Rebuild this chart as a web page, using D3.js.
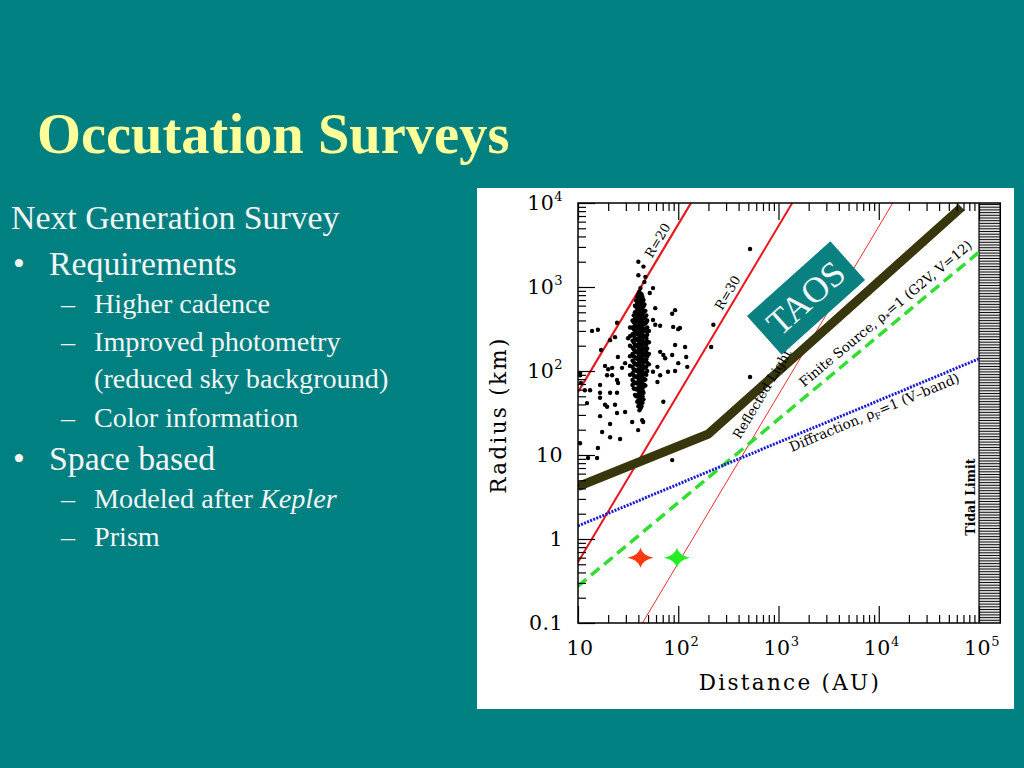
<!DOCTYPE html>
<html lang="en">
<head>
<meta charset="UTF-8">
<title>Occutation Surveys</title>
<style>
    html, body { margin: 0; padding: 0; background: #008080; }
    svg { display: block; }
    .slide-text { font-family: "Liberation Serif", "Times New Roman", serif; fill: #f4f4f4; }
    .chart-text { font-family: "DejaVu Serif", serif; fill: #000; }
</style>
</head>
<body>
<svg id="slide" width="1024" height="768"></svg>
<script src="https://d3js.org/d3.v7.min.js"></script>
<script>
    // ---- slide text ----
    const title = "Occutation Surveys";
    const headline = "Next Generation Survey";
    const bullets = [
        { level: 1, text: "Requirements" },
        { level: 2, text: "Higher cadence" },
        { level: 2, text: "Improved photometry" },
        { level: 3, text: "(reduced sky background)" },
        { level: 2, text: "Color information" },
        { level: 1, text: "Space based" },
        { level: 2, text: "Modeled after ", italic: "Kepler" },
        { level: 2, text: "Prism" }
    ];

    // ---- chart data (distance in AU, radius in km) ----
    const xMajor = [10, 100, 1000, 10000, 100000];
    const xLabels = [["10", ""], ["10", "2"], ["10", "3"], ["10", "4"], ["10", "5"]];
    const yMajor = [0.1, 1, 10, 100, 1000, 10000];
    const yLabels = [["0.1", ""], ["1", ""], ["10", ""], ["10", "2"], ["10", "3"], ["10", "4"]];

    const tidalLimit = 100000;
    const frameEdge = 163000;

    const r20Line = [[10, 56], [134, 10000]];
    const r30Line = [[10, 0.53], [1370, 10000]];
    const r40Line = [[44, 0.1], [13800, 10000]];
    const taosLine = [[10, 4.2], [200, 17.8], [67000, 8900]];
    const finiteSource = [[10, 0.275], [100000, 2600]];
    const diffraction = [[10, 1.43], [100000, 140]];

    const starDist = [42, 97];
    const starRadius = [0.6, 0.6];

    // dense core of the Kuiper belt objects
    const kboCoreDist = [33, 35, 36, 37, 38, 39, 40, 41, 42, 43, 44, 45, 46, 47, 48, 49, 51];
    const kboCoreRadii = [
        [330, 260, 200, 150, 115, 90],
        [400, 330, 275, 230, 190, 160, 133, 112, 94, 78, 68],
        [460, 380, 315, 262, 218, 182, 150, 126, 105, 88, 74, 62],
        [600, 500, 420, 350, 295, 245, 205, 172, 145, 122, 102, 86, 72, 61, 52],
        [690, 580, 485, 405, 340, 285, 240, 200, 168, 142, 120, 101, 85, 72, 61, 50],
        [760, 640, 540, 455, 385, 325, 275, 232, 196, 166, 140, 118, 100, 84, 71, 60, 51, 43],
        [820, 690, 580, 485, 408, 342, 290, 244, 206, 174, 147, 124, 105, 89, 75, 63, 53, 45, 38],
        [880, 740, 620, 520, 440, 370, 312, 263, 222, 188, 158, 134, 113, 95, 80, 68, 57, 48, 40, 34],
        [760, 640, 535, 450, 380, 318, 268, 226, 190, 161, 136, 115, 97, 82, 69, 58, 49, 41, 36],
        [820, 690, 580, 490, 410, 345, 290, 245, 207, 175, 148, 125, 105, 89, 75, 63, 53, 45, 38],
        [760, 640, 540, 455, 382, 322, 272, 228, 193, 163, 138, 116, 98, 83, 70, 59, 50, 42],
        [700, 590, 500, 420, 355, 300, 252, 212, 180, 152, 128, 108, 91, 77, 65, 55, 46],
        [620, 520, 440, 370, 312, 262, 222, 188, 158, 134, 113, 95, 80, 68],
        [520, 440, 370, 310, 262, 220, 186, 157, 132, 111, 94, 79, 67],
        [460, 380, 300, 245, 205, 168, 138, 112, 90],
        [400, 330, 270, 225, 185, 150, 125, 100],
        [300, 220, 160, 120]
    ];
    // scattered objects
    const kboField = [
        [40, 2000], [45, 1750], [40, 1380], [47, 1320], [46, 1150], [42, 970], [56, 970], [52, 850],
        [24.5, 375], [13.8, 300], [15.8, 310], [20.9, 233], [23.4, 253], [17, 178], [93, 530], [87, 480],
        [89, 335], [100, 315], [104, 325], [59, 560], [56, 405], [59, 355], [66, 169], [71, 155],
        [74, 142], [93, 204], [117, 193], [87, 155], [100, 124], [123, 112], [62, 112], [25, 147],
        [31.6, 245], [18.6, 115], [21.9, 109], [224, 355], [213, 193], [66, 345], [120, 147], [71, 43],
        [10.5, 95], [10.7, 72], [29.5, 124], [27.5, 109], [20, 105], [19.5, 89], [21.9, 89], [24.5, 78],
        [25.1, 72], [56, 98], [66, 89], [79, 98], [93, 100], [62, 74], [16.6, 68], [16.6, 55],
        [11.7, 59], [13.2, 59], [10.5, 89], [20.9, 55], [24.5, 55], [12.3, 41.5], [16.6, 48], [18.6, 39.6],
        [19.5, 37.5], [23.4, 39.6], [29.5, 32.5], [24.5, 31.6], [16.6, 29], [20.9, 23.4], [34.7, 24.7],
        [43.7, 26], [44.7, 24.7], [39.8, 19.8], [17.4, 18.8], [20.9, 16.3], [26.3, 15.5], [10.5, 13.8],
        [15.8, 12.1], [12.6, 9.2], [15.5, 9.2], [87, 8.7], [520, 85], [520, 2830]
    ];

    const svg = d3.select("#slide");

    // ---- slide text ----
    svg.append("text").attr("x", 37).attr("y", 153)
        .attr("font-family", "Liberation Serif, serif")
        .attr("font-weight", "bold").attr("font-size", 56.5)
        .attr("fill", "#ffff99")
        .text(title);

    svg.append("text").attr("class", "slide-text")
        .attr("x", 11).attr("y", 229).attr("font-size", 33.8)
        .text(headline);

    const lineY = [275, 313, 351, 388, 427, 470, 508, 546];
    bullets.forEach((b, i) => {
        const size = b.level === 1 ? 33.8 : 28.2;
        if (b.level === 1) {
            svg.append("text").attr("class", "slide-text")
                .attr("x", 13).attr("y", lineY[i]).attr("font-size", size).text("\u2022");
        } else if (b.level === 2) {
            svg.append("text").attr("class", "slide-text")
                .attr("x", 61).attr("y", lineY[i]).attr("font-size", size).text("\u2013");
        }
        const t = svg.append("text").attr("class", "slide-text")
            .attr("x", b.level === 1 ? 49 : 94).attr("y", lineY[i])
            .attr("font-size", size)
            .text(b.text);
        if (b.italic) t.append("tspan").attr("font-style", "italic").text(b.italic);
    });

    // ---- chart panel ----
    svg.append("rect").attr("x", 477).attr("y", 188)
        .attr("width", 537).attr("height", 521).attr("fill", "#fff");

    const x = d3.scaleLog().domain([10, 100000]).range([578, 979]);
    const y = d3.scaleLog().domain([0.1, 10000]).range([623, 203]);

    const pLeft = x(10), pRight = x(frameEdge), pTop = y(10000), pBottom = y(0.1);

    svg.append("clipPath").attr("id", "plotClip")
        .append("rect").attr("x", pLeft).attr("y", pTop)
        .attr("width", x(tidalLimit) - pLeft).attr("height", pBottom - pTop);

    // tidal limit hatching
    const hatch = svg.append("g");
    hatch.append("rect").attr("x", x(tidalLimit)).attr("y", pTop)
        .attr("width", pRight - x(tidalLimit)).attr("height", pBottom - pTop)
        .attr("fill", "#e2e2e2");
    hatch.selectAll("line").data(d3.range(pTop + 1.5, pBottom, 2.7)).enter().append("line")
        .attr("x1", x(tidalLimit)).attr("x2", pRight)
        .attr("y1", d => d).attr("y2", d => d)
        .attr("stroke", "#111").attr("stroke-width", 1);
    hatch.append("line").attr("x1", x(tidalLimit)).attr("x2", x(tidalLimit))
        .attr("y1", pTop).attr("y2", pBottom).attr("stroke", "#000").attr("stroke-width", 1.2);

    const plot = svg.append("g").attr("clip-path", "url(#plotClip)");
    const path = d3.line().x(d => x(d[0])).y(d => y(d[1]));

    plot.append("path").datum(r20Line).attr("d", path)
        .attr("fill", "none").attr("stroke", "#e8161e").attr("stroke-width", 2.2);
    plot.append("path").datum(r30Line).attr("d", path)
        .attr("fill", "none").attr("stroke", "#e8161e").attr("stroke-width", 2);
    plot.append("path").datum(r40Line).attr("d", path)
        .attr("fill", "none").attr("stroke", "#e8161e").attr("stroke-width", 0.9);

    // place a label along a straight line segment
    function lineLabel(seg, d, offset, anchor, size, build) {
        const [p1, p2] = seg;
        const t = (Math.log10(d) - Math.log10(p1[0])) / (Math.log10(p2[0]) - Math.log10(p1[0]));
        const r = Math.pow(10, Math.log10(p1[1]) + t * (Math.log10(p2[1]) - Math.log10(p1[1])));
        const angle = Math.atan2(y(p2[1]) - y(p1[1]), x(p2[0]) - x(p1[0])) * 180 / Math.PI;
        const txt = svg.append("text").attr("class", "chart-text")
            .attr("font-size", size).attr("text-anchor", anchor)
            .attr("transform", `translate(${x(d)},${y(r)}) rotate(${angle}) translate(0,${offset})`);
        build(txt);
    }

    lineLabel(r40Line, 504, -10, "start", 13, t => t.text("Reflected Light"));

    plot.append("path").datum(finiteSource).attr("d", path)
        .attr("fill", "none").attr("stroke", "#33dd33").attr("stroke-width", 3.5)
        .attr("stroke-dasharray", "11,6");
    plot.append("path").datum(diffraction).attr("d", path)
        .attr("fill", "none").attr("stroke", "#1a1ad0").attr("stroke-width", 3)
        .attr("stroke-dasharray", "2,1.3");

    plot.append("path").datum(taosLine).attr("d", path)
        .attr("fill", "none").attr("stroke", "#37360c").attr("stroke-width", 9)
        .attr("stroke-linejoin", "bevel");

    // Kuiper belt objects
    const kbos = kboCoreDist.flatMap((d, i) => kboCoreRadii[i].map(r => [d, r])).concat(kboField);
    plot.append("g").selectAll("circle").data(kbos).enter().append("circle")
        .attr("cx", d => x(d[0])).attr("cy", d => y(d[1]))
        .attr("r", 2.2).attr("fill", "#000");

    // TAOS box
    const tA = taosLine[1], tB = taosLine[2];
    const taosAngle = Math.atan2(y(tB[1]) - y(tA[1]), x(tB[0]) - x(tA[0])) * 180 / Math.PI;
    const box = svg.append("g")
        .attr("transform", `translate(${x(1880)},${y(740)}) rotate(${taosAngle})`);
    box.append("rect").attr("x", -56).attr("y", -26).attr("width", 112).attr("height", 52)
        .attr("fill", "#0a8080");
    box.append("text").attr("text-anchor", "middle").attr("y", 12)
        .attr("font-family", "Liberation Serif, serif").attr("font-size", 36)
        .attr("fill", "#eef6f6").text("TAOS");

    // line labels
    lineLabel(r20Line, 75, -5, "middle", 13, t => t.text("R=20"));
    lineLabel(r30Line, 375, -5, "middle", 13, t => t.text("R=30"));
    lineLabel(finiteSource, 2020, -8, "start", 13.4, t => {
        t.append("tspan").text("Finite Source, \u03C1");
        t.append("tspan").attr("font-size", 9).attr("dy", 3).text("*");
        t.append("tspan").attr("dy", -3).text("=1 (G2V, V=12)");
    });
    lineLabel(diffraction, 1200, 14, "start", 13.6, t => {
        t.append("tspan").text("Diffraction, \u03C1");
        t.append("tspan").attr("font-size", 9).attr("dy", 3).text("F");
        t.append("tspan").attr("dy", -3).text("=1 (V\u2013band)");
    });

    svg.append("text").attr("class", "chart-text")
        .attr("font-size", 12.5).attr("font-weight", "bold").attr("text-anchor", "middle")
        .attr("transform", `translate(${x(tidalLimit) - 4},${y(3.16)}) rotate(-90)`)
        .text("Tidal Limit");

    // stars
    const sparkle = "M-13,0 Q-2,-2 0,-10 Q2,-2 13,0 Q2,2 0,10 Q-2,2 -13,0Z";
    const starColors = ["#ff3a12", "#22ee22"];
    svg.append("g").selectAll("path").data(starDist).enter().append("path")
        .attr("d", sparkle)
        .attr("transform", (d, i) => `translate(${x(d)},${y(starRadius[i])})`)
        .attr("fill", (d, i) => starColors[i]);

    // ---- axes ----
    const minorX = x.ticks().filter(v => !xMajor.includes(v));
    const minorY = y.ticks().filter(v => !yMajor.some(m => Math.abs(m - v) < 1e-9));

    function styleAxis(g) {
        g.select(".domain").remove();
        g.selectAll(".tick text").remove();
        g.selectAll(".tick line").attr("stroke", "#000").attr("stroke-width", 1.2);
    }
    [[minorX, 8], [xMajor, 17]].forEach(([vals, len]) => {
        svg.append("g").attr("transform", `translate(0,${pBottom})`)
            .call(d3.axisBottom(x).tickValues(vals).tickSizeInner(-len).tickSizeOuter(0)).call(styleAxis);
        svg.append("g").attr("transform", `translate(0,${pTop})`)
            .call(d3.axisTop(x).tickValues(vals).tickSizeInner(-len).tickSizeOuter(0)).call(styleAxis);
    });
    [[minorY, 8], [yMajor, 17]].forEach(([vals, len]) => {
        svg.append("g").attr("transform", `translate(${pLeft},0)`)
            .call(d3.axisLeft(y).tickValues(vals).tickSizeInner(-len).tickSizeOuter(0)).call(styleAxis);
    });

    svg.append("rect").attr("x", pLeft).attr("y", pTop)
        .attr("width", pRight - pLeft).attr("height", pBottom - pTop)
        .attr("fill", "none").attr("stroke", "#000").attr("stroke-width", 1.5);

    function powLabel(t, lab) {
        t.append("tspan").text(lab[0]);
        if (lab[1]) t.append("tspan").attr("font-size", 13).attr("dy", -9).text(lab[1]);
    }
    xMajor.forEach((v, i) => {
        const t = svg.append("text").attr("class", "chart-text")
            .attr("x", x(v) + (xLabels[i][1] ? 3 : 2)).attr("y", 655)
            .attr("font-size", 20.5).attr("letter-spacing", 0.5).attr("text-anchor", "middle");
        powLabel(t, xLabels[i]);
    });
    yMajor.forEach((v, i) => {
        const t = svg.append("text").attr("class", "chart-text")
            .attr("x", 563).attr("y", y(v) + 7)
            .attr("font-size", 20.5).attr("letter-spacing", 0.5).attr("text-anchor", "end");
        powLabel(t, yLabels[i]);
    });

    svg.append("text").attr("class", "chart-text")
        .attr("font-size", 21.5).attr("letter-spacing", 2.3).attr("text-anchor", "middle")
        .attr("transform", "translate(506,415) rotate(-90)")
        .text("Radius (km)");
    svg.append("text").attr("class", "chart-text")
        .attr("font-size", 21.5).attr("letter-spacing", 2.3).attr("text-anchor", "middle")
        .attr("x", 790).attr("y", 690)
        .text("Distance (AU)");
</script>
</body>
</html>
